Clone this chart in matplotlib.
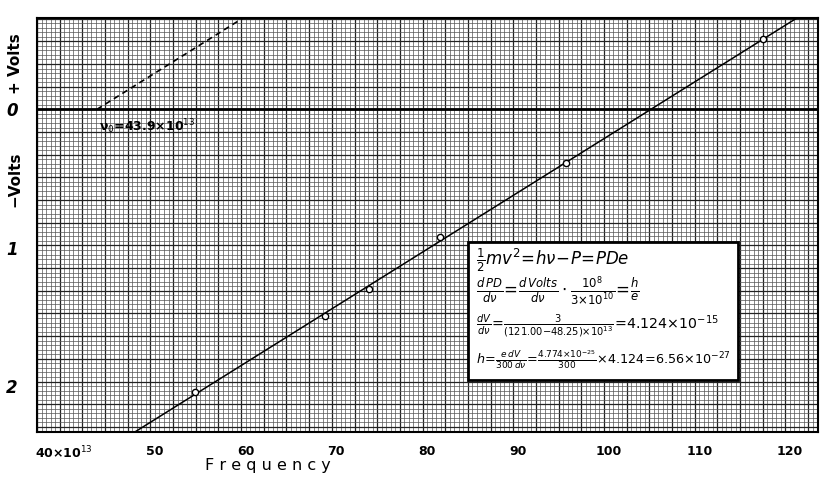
import numpy as np
import matplotlib
matplotlib.use("Agg")
import matplotlib.pyplot as plt
from matplotlib.patches import Rectangle

# ---- data ----
freq = [54.4, 68.7, 73.6, 81.4, 95.3, 117.0]          # x 10^13 Hz
volts = [-2.04, -1.49, -1.30, -0.925, -0.39, 0.51]    # stopping potential (V)
threshold = 43.6                                       # dashed line origin
xtick_vals = [40, 50, 60, 70, 80, 90, 100, 110, 120]
xtick_labels = ["40×10$^{13}$", "50", "60", "70", "80", "90", "100", "110", "120"]
ytick_vals = [0, -1, -2]
ytick_labels = ["0", "1", "2"]

XLIM = (37.0, 123.1)
YLIM = (-2.33, 0.66)

fig = plt.figure(figsize=(8.3, 4.86), dpi=100)
ax = fig.add_axes([0.0446, 0.111, 0.941, 0.852])
ax.set_xlim(*XLIM)
ax.set_ylim(*YLIM)

# graph-paper grid
dx = 0.5
W_px = 0.941 * 830
H_px = 0.852 * 486
px_per_x = W_px / (XLIM[1] - XLIM[0])
px_per_y = H_px / (YLIM[1] - YLIM[0])
dy = dx * px_per_x / px_per_y
gx = np.arange(37.0, XLIM[1] + 1e-9, dx)
for i, g in enumerate(gx):
    heavy = (i % 5 == 0)
    ax.axvline(g, color="#222222" if heavy else "#555555",
               lw=0.9 if heavy else 0.5, zorder=0)
gy = np.arange(0, YLIM[1], dy)
gy = np.concatenate([gy, -np.arange(dy, -YLIM[0], dy)])
for g in gy:
    k = int(round(g / dy))
    heavy = (k % 5 == 0)
    ax.axhline(g, color="#222222" if heavy else "#555555",
               lw=0.9 if heavy else 0.5, zorder=0)

ax.axhline(0, color="black", lw=2.0, zorder=2)

# fitted line
m, b = np.polyfit(freq, volts, 1)
xl = np.array(XLIM)
ax.plot(xl, m * xl + b, color="black", lw=1.1, zorder=3)
# dashed parallel line from threshold
xd = np.array([threshold, XLIM[1]])
ax.plot(xd, m * (xd - threshold), color="black", lw=1.2, ls=(0, (3.5, 2.5)), zorder=3)
ax.plot(freq, volts, "o", ms=4.5, mfc="white", mec="black", mew=1.0, zorder=4)

ax.text(threshold + 0.2, -0.06, "ν$_0$=43.9×10$^{13}$", fontsize=9, fontweight="bold",
        va="top", ha="left", zorder=5)

for s in ax.spines.values():
    s.set_linewidth(1.5)

ax.set_xticks(xtick_vals)
ax.set_xticklabels(xtick_labels, fontsize=9, fontweight="bold")
ax.set_yticks(ytick_vals)
ax.set_yticklabels(ytick_labels, fontsize=12, fontweight="bold", style="italic")
ax.tick_params(length=0, pad=9)
ax.tick_params(axis="y", pad=14)

ax.text(-0.028, 0.89, "+ Volts", transform=ax.transAxes, rotation=90,
        fontsize=11, fontweight="bold", ha="center", va="center")
ax.text(-0.028, 0.61, "−Volts", transform=ax.transAxes, rotation=90,
        fontsize=11, fontweight="bold", ha="center", va="center")
ax.text(268 / 830, 1 - 465 / 486, "F r e q u e n c y", transform=fig.transFigure,
        fontsize=11.5, ha="center", va="center")

# formula box
bx0, by0 = (468 - 37) / W_px, (432 - 380) / H_px
bw, bh = 270 / W_px, 138 / H_px
ax.add_patch(Rectangle((bx0, by0), bw, bh, transform=ax.transAxes,
                       facecolor="white", edgecolor="black", lw=2.0, zorder=6))
lines = [
    r"$\frac{1}{2}mv^2\!=\!h\nu\!-\!P\!=\!PDe$",
    r"$\frac{d\,PD}{d\nu}\!=\!\frac{d\,Volts}{d\nu}\cdot\frac{10^8}{3{\times}10^{10}}\!=\!\frac{h}{e}$",
    r"$\frac{dV}{d\nu}\!=\!\frac{3}{(121.00{-}48.25){\times}10^{13}}\!=\!4.124{\times}10^{-15}$",
    r"$h\!=\!\frac{e\,dV}{300\,d\nu}\!=\!\frac{4.774{\times}10^{-25}}{300}{\times}4.124\!=\!6.56{\times}10^{-27}$",
]
sizes = [12, 12, 10.2, 9.2]
ys = [0.87, 0.64, 0.39, 0.15]
for t, yy, fs in zip(lines, ys, sizes):
    ax.text(bx0 + 0.01, by0 + bh * yy, t, transform=ax.transAxes, fontsize=fs,
            ha="left", va="center", zorder=7)

fig.savefig("out.png", dpi=100, facecolor="white")
